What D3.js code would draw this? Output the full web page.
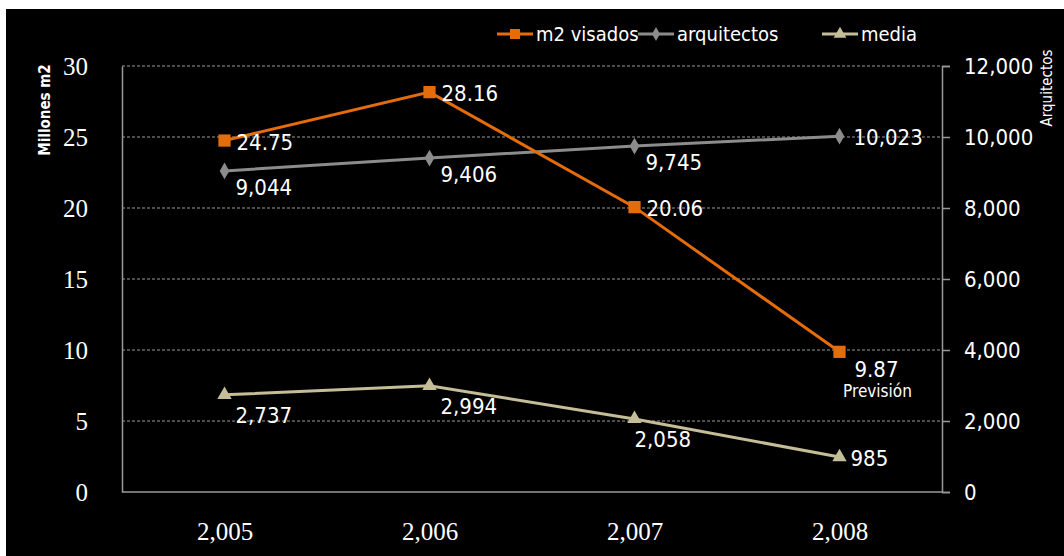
<!DOCTYPE html>
<html lang="es">
<head>
<meta charset="UTF-8">
<title>m2 visados y arquitectos</title>
<script src="https://d3js.org/d3.v7.min.js"></script>
<style>
    html, body { margin: 0; padding: 0; background: #fff; }
    svg { display: block; }
</style>
</head>
<body>
<div id="chart"></div>
<script>
// --- Data ---
const years = [2005, 2006, 2007, 2008];
const m2Visados = [24.75, 28.16, 20.06, 9.87];
const arquitectos = [9044, 9406, 9745, 10023];
const media = [2737, 2994, 2058, 985];
const leftTicks = [0, 5, 10, 15, 20, 25, 30];
const rightTicks = [0, 2000, 4000, 6000, 8000, 10000, 12000];
const seriesNames = ['m2 visados', 'arquitectos', 'media'];

const W = 1064, H = 556;
const plot = { left: 122, right: 942, top: 66, bottom: 492 };

const ORANGE = '#e46c0a', GRAY = '#8c8c8c', BEIGE = '#c4bd97';
const serif = "'Liberation Serif', 'DejaVu Serif', serif";
const sans = "'DejaVu Sans Condensed', 'Liberation Sans Narrow', 'Liberation Sans', sans-serif";

const svg = d3.select('#chart').append('svg')
    .attr('width', W).attr('height', H);

// white frame edge, black chart area
svg.append('rect').attr('x', 6).attr('y', 9).attr('width', W - 6).attr('height', H - 9).attr('fill', '#000');

const x = d3.scalePoint().domain(years).range([plot.left, plot.right]).padding(0.5);
const yL = d3.scaleLinear().domain([0, 30]).range([plot.bottom, plot.top]);
const yR = d3.scaleLinear().domain([0, 12000]).range([plot.bottom, plot.top]);
const fmt = d3.format(',');

// gridlines
svg.append('g').selectAll('line').data(leftTicks.filter(d => d > 0)).join('line')
    .attr('x1', plot.left).attr('x2', plot.right)
    .attr('y1', d => yL(d)).attr('y2', d => yL(d))
    .attr('stroke', '#9a9a9a').attr('stroke-width', 1).attr('stroke-dasharray', '3,2');

// left axis
const gL = svg.append('g').attr('transform', `translate(${plot.left},0)`)
    .call(d3.axisLeft(yL).tickValues(leftTicks).tickSize(0).tickPadding(34));
gL.select('.domain').attr('stroke', '#9a9a9a').attr('stroke-width', 1.5);
gL.selectAll('text').attr('fill', '#fff').style('font-family', serif).style('font-size', '25px');

// right axis
const gR = svg.append('g').attr('transform', `translate(${plot.right},0)`)
    .call(d3.axisRight(yR).tickValues(rightTicks).tickFormat(fmt).tickSize(8).tickPadding(14));
gR.select('.domain').attr('stroke', '#9a9a9a').attr('stroke-width', 1.5);
gR.selectAll('line').attr('stroke', '#9a9a9a').attr('stroke-width', 1.5);
gR.selectAll('text').attr('fill', '#fff').style('font-family', sans).style('font-size', '22px');

// bottom axis
const gB = svg.append('g').attr('transform', `translate(0,${plot.bottom})`)
    .call(d3.axisBottom(x).tickFormat(fmt).tickSize(0).tickPadding(30));
gB.select('.domain').attr('stroke', '#9a9a9a').attr('stroke-width', 1.5)
    .attr('d', `M${plot.left},0H${plot.right}`);
gB.selectAll('text').attr('fill', '#fff').style('font-family', serif).style('font-size', '25px');

// axis titles
svg.append('text').attr('transform', 'translate(50,110) rotate(-90)')
    .attr('text-anchor', 'middle').attr('fill', '#fff')
    .style('font-family', sans).style('font-size', '15px').style('font-weight', 'bold')
    .text('Millones m2');
svg.append('text').attr('transform', 'translate(1052,88) rotate(-90)')
    .attr('text-anchor', 'middle').attr('fill', '#fff')
    .style('font-family', sans).style('font-size', '15px')
    .text('Arquitectos');

// lines
const lineL = d3.line().x((d, i) => x(years[i])).y(d => yL(d));
const lineR = d3.line().x((d, i) => x(years[i])).y(d => yR(d));

svg.append('path').datum(media).attr('d', lineR)
    .attr('fill', 'none').attr('stroke', BEIGE).attr('stroke-width', 3);
svg.append('path').datum(arquitectos).attr('d', lineR)
    .attr('fill', 'none').attr('stroke', GRAY).attr('stroke-width', 3);
svg.append('path').datum(m2Visados).attr('d', lineL)
    .attr('fill', 'none').attr('stroke', ORANGE).attr('stroke-width', 3);

// markers
const tri = d3.symbol().type(d3.symbolTriangle).size(90);
const dia = d3.symbol().type(d3.symbolDiamond).size(80);
const sq = d3.symbol().type(d3.symbolSquare).size(150);

svg.append('g').selectAll('path').data(media).join('path')
    .attr('d', tri).attr('fill', BEIGE)
    .attr('transform', (d, i) => `translate(${x(years[i])},${yR(d)})`);
svg.append('g').selectAll('path').data(arquitectos).join('path')
    .attr('d', dia).attr('fill', GRAY)
    .attr('transform', (d, i) => `translate(${x(years[i])},${yR(d)})`);
svg.append('g').selectAll('path').data(m2Visados).join('path')
    .attr('d', sq).attr('fill', ORANGE)
    .attr('transform', (d, i) => `translate(${x(years[i])},${yL(d)})`);

// data labels
const lab = (sel) => sel.attr('fill', '#fff').style('font-family', sans).style('font-size', '22px');

// m2 visados: right of point, last one below
svg.append('g').selectAll('text').data(m2Visados).join('text')
    .attr('x', (d, i) => i === 3 ? x(years[i]) + 37 : x(years[i]) + 12)
    .attr('y', (d, i) => i === 3 ? yL(d) + 25 : yL(d) + 9)
    .attr('text-anchor', (d, i) => i === 3 ? 'middle' : 'start')
    .text(d => d3.format('.2f')(d)).call(lab);
svg.append('text')
    .attr('x', x(years[3]) + 38).attr('y', yL(m2Visados[3]) + 45)
    .attr('text-anchor', 'middle').attr('fill', '#fff')
    .style('font-family', sans).style('font-size', '17px')
    .text('Previsión');

// arquitectos: below right, last one right
svg.append('g').selectAll('text').data(arquitectos).join('text')
    .attr('x', (d, i) => i === 3 ? x(years[i]) + 14 : x(years[i]) + 11)
    .attr('y', (d, i) => i === 3 ? yR(d) + 9 : yR(d) + 24)
    .text(d => fmt(d)).call(lab);

// media: below right, last one right
svg.append('g').selectAll('text').data(media).join('text')
    .attr('x', (d, i) => i === 2 ? x(years[i]) : x(years[i]) + 11)
    .attr('y', (d, i) => i === 3 ? yR(d) + 9 : yR(d) + 28)
    .text(d => fmt(d)).call(lab);

// legend
const legend = [
    { color: ORANGE, sym: d3.symbol().type(d3.symbolSquare).size(100)(), x: 497 },
    { color: GRAY, sym: d3.symbol().type(d3.symbolDiamond).size(55)(), x: 638 },
    { color: BEIGE, sym: d3.symbol().type(d3.symbolTriangle).size(70)(), x: 822 }
];
const lg = svg.append('g').selectAll('g').data(legend).join('g')
    .attr('transform', d => `translate(${d.x},34)`);
lg.append('line').attr('x1', 0).attr('x2', 36).attr('stroke', d => d.color).attr('stroke-width', 3);
lg.append('path').attr('d', d => d.sym)
    .attr('transform', 'translate(18,0)').attr('fill', d => d.color);
lg.append('text').attr('x', 39).attr('y', 7).attr('fill', '#fff')
    .style('font-family', sans).style('font-size', '20px')
    .text((d, i) => seriesNames[i]);
</script>
</body>
</html>
